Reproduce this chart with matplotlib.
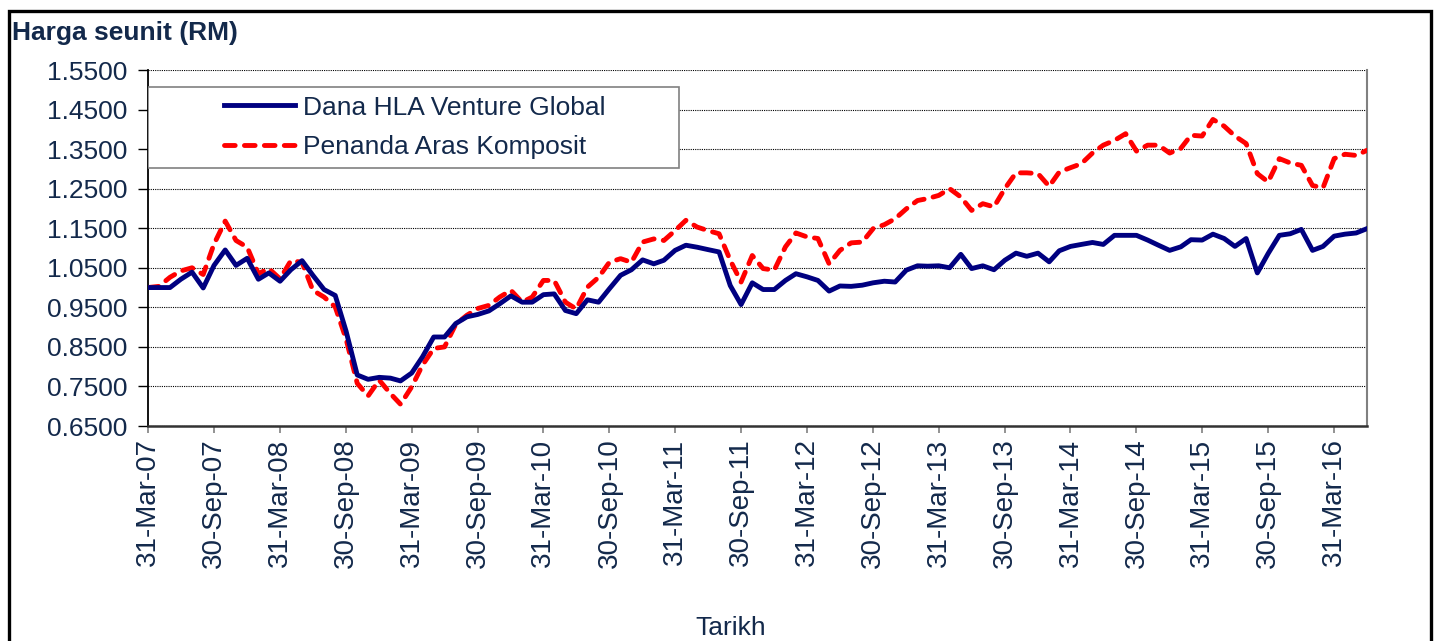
import numpy as np
import pandas as pd
import matplotlib
matplotlib.use('Agg')
import matplotlib.pyplot as plt
import matplotlib.dates as mdates
from matplotlib.patches import Rectangle

# Monthly unit prices (Mar-07 .. Jun-16).
dates = pd.date_range('2007-03-31', periods=112, freq='ME')
fund = [
    1.000, 1.000, 1.000, 1.021, 1.039, 0.999, 1.056, 1.095, 1.056, 1.074,
    1.021, 1.037, 1.016, 1.045, 1.068, 1.031, 0.995, 0.980, 0.890, 0.779,
    0.768, 0.773, 0.771, 0.764, 0.784, 0.825, 0.875, 0.875, 0.909, 0.926,
    0.932, 0.941, 0.959, 0.979, 0.963, 0.963, 0.982, 0.984, 0.942, 0.934,
    0.969, 0.963, 0.997, 1.031, 1.045, 1.070, 1.060, 1.069, 1.094, 1.107,
    1.102, 1.096, 1.090, 1.005, 0.957, 1.012, 0.995, 0.995, 1.018, 1.035,
    1.027, 1.018, 0.991, 1.004, 1.003, 1.006, 1.012, 1.016, 1.014, 1.044,
    1.055, 1.054, 1.055, 1.050, 1.084, 1.048, 1.055, 1.045, 1.069, 1.087,
    1.079, 1.087, 1.065, 1.093, 1.104, 1.109, 1.114, 1.109, 1.132, 1.132,
    1.132, 1.120, 1.107, 1.094, 1.103, 1.121, 1.120, 1.135, 1.124, 1.104,
    1.124, 1.037, 1.086, 1.132, 1.136, 1.147, 1.094, 1.104, 1.130, 1.135,
    1.138, 1.149,
]
benchmark = [
    1.000, 1.003, 1.026, 1.042, 1.050, 1.033, 1.110, 1.168, 1.119, 1.102,
    1.035, 1.048, 1.022, 1.068, 1.064, 0.993, 0.976, 0.951, 0.870, 0.758,
    0.726, 0.766, 0.732, 0.705, 0.749, 0.804, 0.846, 0.850, 0.907, 0.930,
    0.947, 0.955, 0.976, 0.993, 0.963, 0.976, 1.018, 1.018, 0.963, 0.946,
    1.001, 1.026, 1.064, 1.073, 1.064, 1.115, 1.123, 1.119, 1.144, 1.170,
    1.153, 1.144, 1.136, 1.069, 1.014, 1.081, 1.048, 1.044, 1.103, 1.138,
    1.128, 1.124, 1.060, 1.094, 1.113, 1.115, 1.149, 1.159, 1.174, 1.199,
    1.220, 1.225, 1.233, 1.250, 1.229, 1.195, 1.212, 1.204, 1.250, 1.290,
    1.290, 1.288, 1.256, 1.292, 1.303, 1.313, 1.340, 1.360, 1.372, 1.389,
    1.345, 1.360, 1.360, 1.340, 1.352, 1.385, 1.383, 1.425, 1.408, 1.383,
    1.364, 1.288, 1.267, 1.326, 1.315, 1.309, 1.258, 1.252, 1.326, 1.337,
    1.334, 1.347,
]
labels = ['Dana HLA Venture Global', 'Penanda Aras Komposit']
y_ticks = [0.65, 0.75, 0.85, 0.95, 1.05, 1.15, 1.25, 1.35, 1.45, 1.55]

TXT = '#13294B'
plt.rcParams['font.family'] = ['Liberation Sans', 'DejaVu Sans']
plt.rcParams['font.size'] = 19

W, H = 1443, 641
fig = plt.figure(figsize=(W / 100, H / 100), dpi=100)
ax = fig.add_axes([148 / W, 1 - 426 / H, (1367 - 148) / W, (426 - 70) / H])

# Outer chart frame (bottom edge falls outside the crop).
fig.patches.append(Rectangle((9 / W, -0.05), (1431 - 9) / W, 1.05 - 11 / H,
                             transform=fig.transFigure, fill=False,
                             edgecolor='black', linewidth=2.4))

ax.plot(dates, fund, color='#000080', linewidth=3.5, solid_joinstyle='round',
        label=labels[0], zorder=4)
ax.plot(dates, benchmark, color='#FF0000', linewidth=3.5,
        linestyle=(0, (2.2, 1.9)), dash_capstyle='round',
        dash_joinstyle='round', label=labels[1], zorder=3)

ax.set_xlim(dates[0], dates[-1])
ax.set_ylim(0.65, 1.55)
ax.set_yticks(y_ticks)
ax.yaxis.set_major_formatter(matplotlib.ticker.FormatStrFormatter('%.4f'))
ax.yaxis.grid(True, color='black', linestyle=(0, (1, 1)), linewidth=0.8)
ax.set_axisbelow(True)

tick_dates = dates[::6]
ax.set_xticks(tick_dates)
ax.xaxis.set_major_formatter(mdates.DateFormatter('%d-%b-%y'))
plt.setp(ax.get_xticklabels(), rotation=90, ha='center', va='top')

ax.tick_params(axis='y', direction='out', length=7, width=1, color='black',
               pad=8, labelcolor=TXT, labelsize=19)
ax.tick_params(axis='x', direction='out', length=5, width=1.2, color='#808080',
               pad=4, labelcolor=TXT, labelsize=20)

ax.spines['top'].set_visible(False)
ax.spines['left'].set_color('black')
ax.spines['left'].set_linewidth(1.3)
ax.spines['bottom'].set_color('#333333')
ax.spines['bottom'].set_linewidth(1.8)
ax.spines['right'].set_color('#808080')
ax.spines['right'].set_linewidth(1.5)

# Legend box drawn separately so its extent matches the original.
ax.add_patch(Rectangle((148 / W, 1 - 168 / H), (679 - 148) / W, (168 - 87) / H,
                       transform=fig.transFigure, facecolor='white',
                       edgecolor='#808080', linewidth=1.2, zorder=5))
leg = fig.legend(loc='center left', bbox_to_anchor=(211 / W, 1 - 127.5 / H),
                 frameon=False, borderpad=0, handlelength=2.7,
                 handletextpad=0.27, labelspacing=0.6, fontsize=19)
for t in leg.get_texts():
    t.set_color(TXT)
leg.set_zorder(6)

fig.text(12 / W, 1 - 33 / H, 'Harga seunit (RM)', fontsize=19,
         fontweight='bold', color=TXT, ha='left', va='center')
fig.text(731 / W, 1 - 628 / H, 'Tarikh', fontsize=19, color=TXT,
         ha='center', va='center')

fig.savefig('out.png', dpi=100)
